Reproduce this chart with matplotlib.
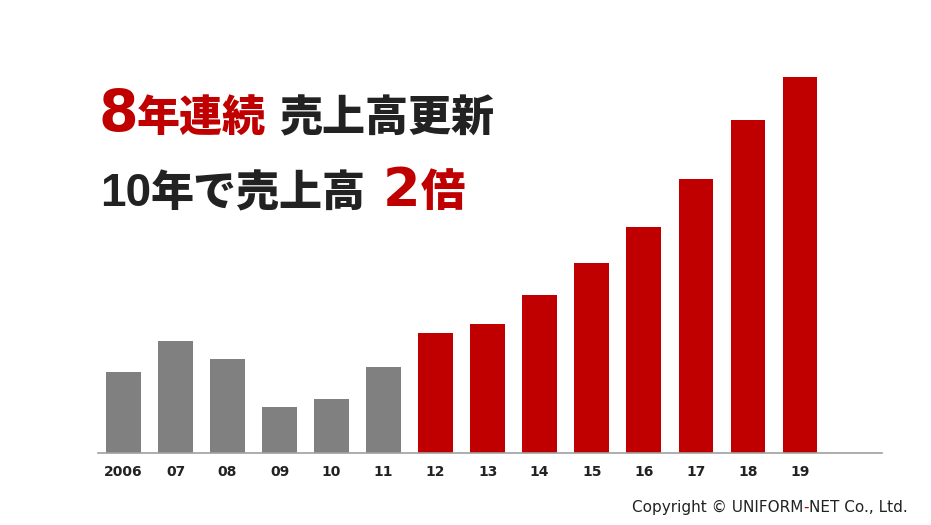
import matplotlib
matplotlib.use("Agg")
import matplotlib.pyplot as plt

years = ["2006", "07", "08", "09", "10", "11", "12", "13", "14", "15", "16", "17", "18", "19"]
sales = [81, 112, 94, 46, 54, 86, 120, 129, 158, 190, 226, 274, 333, 376]
n_gray = 6
GRAY = "#808080"
RED = "#C00000"
DARK = "#222222"

W, H = 931, 525
fig = plt.figure(figsize=(W / 100, H / 100), dpi=100)
fig.patch.set_facecolor("white")

base_px = 453
top_px = 60
ax = fig.add_axes([98 / W, (H - base_px) / H, 784 / W, (base_px - top_px) / H])
colors = [GRAY] * n_gray + [RED] * (len(years) - n_gray)
xs = list(range(len(years)))
ax.bar(xs, sales, width=0.663, color=colors, zorder=2)
ax.set_xlim(-0.49, 14.58)
ax.set_ylim(0, base_px - top_px)
for s in ["top", "right", "left"]:
    ax.spines[s].set_visible(False)
ax.spines["bottom"].set_color("#a0a0a0")
ax.spines["bottom"].set_linewidth(1.2)
ax.set_yticks([])
ax.set_xticks(xs)
ax.set_xticklabels(years, fontsize=10, fontweight="bold", color=DARK,
                   family=["Liberation Sans Narrow", "DejaVu Sans"])
ax.tick_params(axis="x", length=0, pad=9)

renderer = fig.canvas.get_renderer()
JP = ["Noto Sans CJK JP", "DejaVu Sans"]
NUM = ["Liberation Sans", "DejaVu Sans"]
BIG = ["DejaVu Sans"]


def seq(pieces, x_px, base_from_top):
    x = x_px
    for txt, size, color, gap, fam, wt in pieces:
        x += gap
        t = fig.text(x / W, (H - base_from_top) / H, txt, fontsize=size, color=color,
                     family=fam, fontweight=wt, ha="left", va="baseline")
        bb = t.get_window_extent(renderer)
        x = bb.x1


seq([("8", 41, RED, 0, BIG, "bold"), ("年連続", 31, RED, -1, JP, "heavy"),
     ("売上高更新", 31, DARK, 13, JP, "heavy")], 98, 131)
seq([("10", 33, DARK, 0, NUM, "bold"), ("年で売上高", 31, DARK, 0, JP, "heavy"),
     ("2", 39, RED, 17, BIG, "bold"), ("倍", 32, RED, 0, JP, "heavy")], 100, 206)

# copyright
cx = 632
parts = [("Copyright © UNIFORM", DARK), ("-", RED), ("NET Co., Ltd.", DARK)]
for txt, col in parts:
    t = fig.text(cx / W, (H - 512) / H, txt, fontsize=11, color=col,
                 family="DejaVu Sans", ha="left", va="baseline")
    cx = t.get_window_extent(renderer).x1

fig.savefig("out.png", dpi=100)
